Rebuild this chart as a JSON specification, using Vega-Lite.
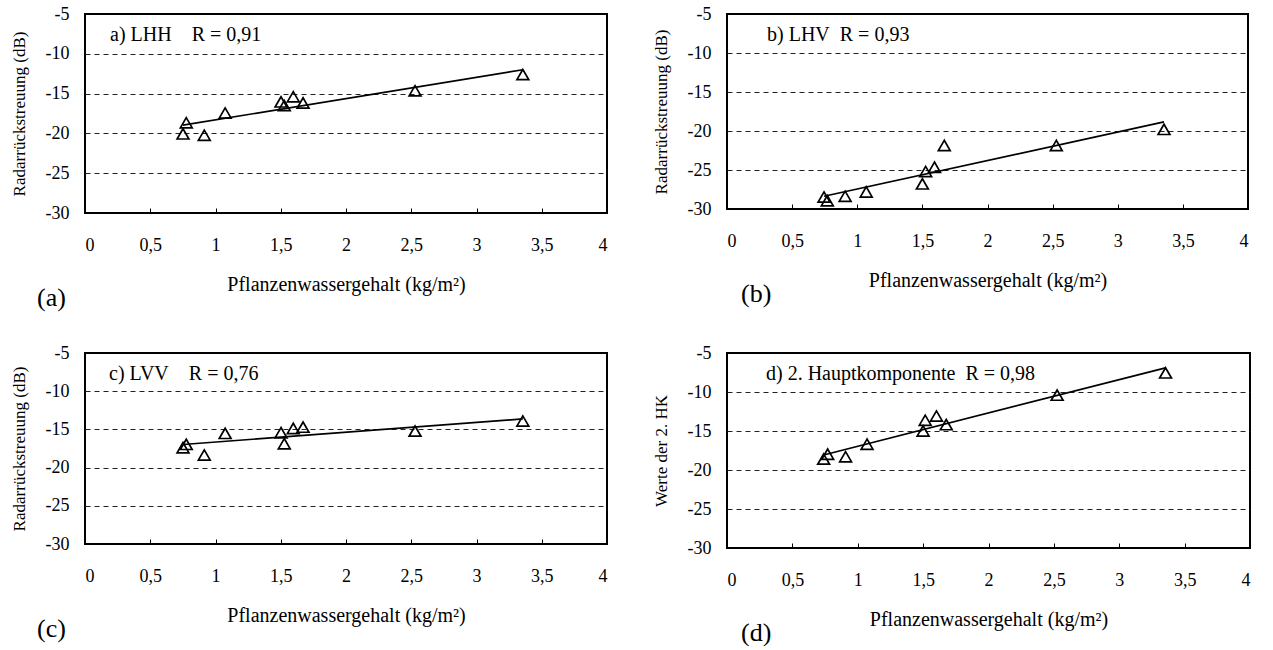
{
  "$schema": "https://vega.github.io/schema/vega-lite/v6.json",
  "padding": {"left": 9, "top": 4, "right": 5, "bottom": 0},
  "background": "white",
  "datasets": {
    "lhh": [
      {"x": 0.751, "y": -20.06}, {"x": 0.776, "y": -18.66}, {"x": 0.914, "y": -20.23},
      {"x": 1.074, "y": -17.44}, {"x": 1.502, "y": -16.04}, {"x": 1.527, "y": -16.5},
      {"x": 1.596, "y": -15.4}, {"x": 1.671, "y": -16.17}, {"x": 2.529, "y": -14.64},
      {"x": 3.355, "y": -12.61}
    ],
    "lhv": [
      {"x": 0.745, "y": -28.46}, {"x": 0.770, "y": -28.93}, {"x": 0.907, "y": -28.37},
      {"x": 1.069, "y": -27.81}, {"x": 1.500, "y": -26.78}, {"x": 1.525, "y": -25.2},
      {"x": 1.593, "y": -24.64}, {"x": 1.668, "y": -21.85}, {"x": 2.528, "y": -21.85},
      {"x": 3.355, "y": -19.79}
    ],
    "lvv": [
      {"x": 0.751, "y": -17.39}, {"x": 0.776, "y": -16.96}, {"x": 0.914, "y": -18.35},
      {"x": 1.074, "y": -15.52}, {"x": 1.502, "y": -15.43}, {"x": 1.527, "y": -16.87},
      {"x": 1.596, "y": -14.87}, {"x": 1.671, "y": -14.70}, {"x": 2.529, "y": -15.22},
      {"x": 3.355, "y": -13.91}
    ],
    "hk2": [
      {"x": 0.739, "y": -18.6}, {"x": 0.770, "y": -17.97}, {"x": 0.907, "y": -18.31},
      {"x": 1.071, "y": -16.69}, {"x": 1.500, "y": -14.99}, {"x": 1.516, "y": -13.63},
      {"x": 1.602, "y": -13.08}, {"x": 1.677, "y": -14.18}, {"x": 2.525, "y": -10.40},
      {"x": 3.354, "y": -7.55}
    ]
  },
  "config": {
    "font": "Liberation Serif",
    "view": {"stroke": "black", "strokeWidth": 2},
    "title": {"font": "Liberation Serif", "fontWeight": "normal", "color": "black"},
    "axis": {
      "labelFont": "Liberation Serif", "titleFont": "Liberation Serif",
      "labelColor": "black", "titleColor": "black", "titleFontWeight": "normal",
      "labelFontSize": 18, "domain": false
    },
    "axisX": {
      "grid": false, "tickSize": -5, "tickColor": "black", "tickWidth": 1,
      "labelPadding": 28, "titlePadding": 20, "titleFontSize": 20,
      "labelExpr": "replace(toString(datum.value), '.', ',')"
    },
    "axisY": {
      "ticks": false, "labelPadding": 16, "titlePadding": 17, "titleFontSize": 17,
      "labelExpr": "toString(datum.value)",
      "grid": true, "gridColor": "#222", "gridWidth": 1, "gridDash": [5, 4],
      "gridOpacity": {"condition": {"test": "datum.value <= -30 || datum.value >= -5", "value": 0}, "value": 1}
    }
  },
  "spacing": 32,
  "vconcat": [
    {
      "spacing": 42,
      "hconcat": [
        {
          "title": {"text": "(a)", "orient": "bottom", "anchor": "start", "fontSize": 26, "offset": -10, "dx": 28},
          "vconcat": [
            {
              "width": 522, "height": 199,
              "data": {"name": "lhh"},
              "title": {"text": "a) LHH\u00a0\u00a0\u00a0 R = 0,91", "anchor": "start", "frame": "group", "offset": -40, "dx": 25, "fontSize": 20},
              "encoding": {
                "x": {"field": "x", "type": "quantitative", "scale": {"domain": [0, 4]}, "axis": {"values": [0, 0.5, 1, 1.5, 2, 2.5, 3, 3.5, 4]}, "title": "Pflanzenwassergehalt (kg/m²)"},
                "y": {"field": "y", "type": "quantitative", "scale": {"domain": [-30, -5]}, "axis": {"values": [-30, -25, -20, -15, -10, -5]}, "title": "Radarrückstreuung (dB)"}
              },
              "layer": [
                {"transform": [{"regression": "y", "on": "x"}], "mark": {"type": "line", "color": "black", "strokeWidth": 1.7}},
                {"mark": {"type": "point", "shape": "triangle-up", "filled": false, "stroke": "black", "strokeWidth": 1.7, "size": 140, "opacity": 1}}
              ]
            }
          ]
        },
        {
          "title": {"text": "(b)", "orient": "bottom", "anchor": "start", "fontSize": 26, "offset": -10, "dx": 90},
          "vconcat": [
            {
              "width": 521, "height": 195,
              "data": {"name": "lhv"},
              "title": {"text": "b) LHV\u00a0\u00a0R = 0,93", "anchor": "start", "frame": "group", "offset": -40, "dx": 40, "fontSize": 20},
              "encoding": {
                "x": {"field": "x", "type": "quantitative", "scale": {"domain": [0, 4]}, "axis": {"values": [0, 0.5, 1, 1.5, 2, 2.5, 3, 3.5, 4]}, "title": "Pflanzenwassergehalt (kg/m²)"},
                "y": {"field": "y", "type": "quantitative", "scale": {"domain": [-30, -5]}, "axis": {"values": [-30, -25, -20, -15, -10, -5]}, "title": "Radarrückstreuung (dB)"}
              },
              "layer": [
                {"transform": [{"regression": "y", "on": "x"}], "mark": {"type": "line", "color": "black", "strokeWidth": 1.7}},
                {"mark": {"type": "point", "shape": "triangle-up", "filled": false, "stroke": "black", "strokeWidth": 1.7, "size": 140, "opacity": 1}}
              ]
            }
          ]
        }
      ]
    },
    {
      "spacing": 42,
      "hconcat": [
        {
          "title": {"text": "(c)", "orient": "bottom", "anchor": "start", "fontSize": 26, "offset": -10, "dx": 28},
          "vconcat": [
            {
              "width": 522, "height": 191,
              "data": {"name": "lvv"},
              "title": {"text": "c) LVV\u00a0\u00a0\u00a0 R = 0,76", "anchor": "start", "frame": "group", "offset": -40, "dx": 24, "fontSize": 20},
              "encoding": {
                "x": {"field": "x", "type": "quantitative", "scale": {"domain": [0, 4]}, "axis": {"values": [0, 0.5, 1, 1.5, 2, 2.5, 3, 3.5, 4]}, "title": "Pflanzenwassergehalt (kg/m²)"},
                "y": {"field": "y", "type": "quantitative", "scale": {"domain": [-30, -5]}, "axis": {"values": [-30, -25, -20, -15, -10, -5]}, "title": "Radarrückstreuung (dB)"}
              },
              "layer": [
                {"transform": [{"regression": "y", "on": "x"}], "mark": {"type": "line", "color": "black", "strokeWidth": 1.7}},
                {"mark": {"type": "point", "shape": "triangle-up", "filled": false, "stroke": "black", "strokeWidth": 1.7, "size": 140, "opacity": 1}}
              ]
            }
          ]
        },
        {
          "title": {"text": "(d)", "orient": "bottom", "anchor": "start", "fontSize": 26, "offset": -10, "dx": 90},
          "vconcat": [
            {
              "width": 523, "height": 195,
              "data": {"name": "hk2"},
              "title": {"text": "d) 2. Hauptkomponente\u00a0\u00a0R = 0,98", "anchor": "start", "frame": "group", "offset": -40, "dx": 39, "fontSize": 20},
              "encoding": {
                "x": {"field": "x", "type": "quantitative", "scale": {"domain": [0, 4]}, "axis": {"values": [0, 0.5, 1, 1.5, 2, 2.5, 3, 3.5, 4]}, "title": "Pflanzenwassergehalt (kg/m²)"},
                "y": {"field": "y", "type": "quantitative", "scale": {"domain": [-30, -5]}, "axis": {"values": [-30, -25, -20, -15, -10, -5]}, "title": "Werte der 2. HK"}
              },
              "layer": [
                {"transform": [{"regression": "y", "on": "x"}], "mark": {"type": "line", "color": "black", "strokeWidth": 1.7}},
                {"mark": {"type": "point", "shape": "triangle-up", "filled": false, "stroke": "black", "strokeWidth": 1.7, "size": 140, "opacity": 1}}
              ]
            }
          ]
        }
      ]
    }
  ]
}
